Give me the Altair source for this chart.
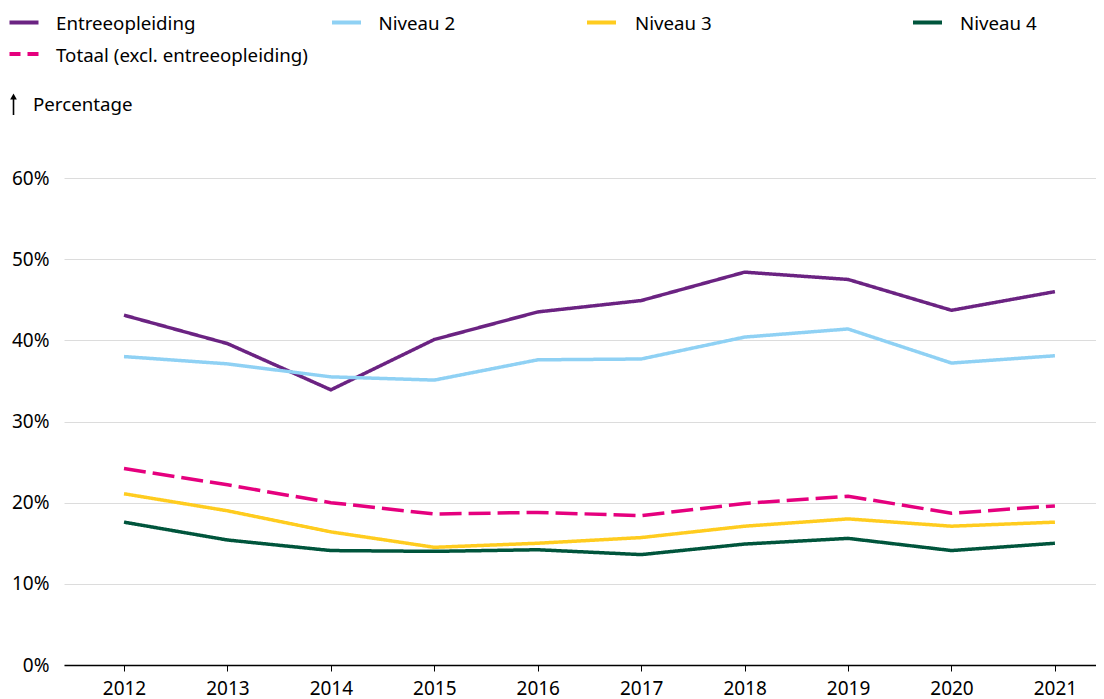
import altair as alt
import pandas as pd

# ---- data ----
jaren = [2012, 2013, 2014, 2015, 2016, 2017, 2018, 2019, 2020, 2021]
series = ["Entreeopleiding", "Niveau 2", "Niveau 3", "Niveau 4",
          "Totaal (excl. entreeopleiding)"]
entree = [43.1, 39.6, 33.9, 40.1, 43.5, 44.9, 48.4, 47.5, 43.7, 46.0]
niveau2 = [38.0, 37.1, 35.5, 35.1, 37.6, 37.7, 40.4, 41.4, 37.2, 38.1]
niveau3 = [21.1, 19.0, 16.4, 14.5, 15.0, 15.7, 17.1, 18.0, 17.1, 17.6]
niveau4 = [17.6, 15.4, 14.1, 14.0, 14.2, 13.6, 14.9, 15.6, 14.1, 15.0]
totaal = [24.2, 22.2, 20.0, 18.6, 18.8, 18.4, 19.9, 20.8, 18.7, 19.6]
y_ticks = [0, 10, 20, 30, 40, 50, 60]

# ---- styles ----
colors = ["#6b2382", "#8fd1f4", "#ffcc1f", "#00553c", "#e5007e"]
dashes = [[1, 0], [1, 0], [1, 0], [1, 0], [22, 7]]
FONT = "Noto Sans"
FS = 18.7
AFS = 19

rows = []
for name, vals in zip(series, [entree, niveau2, niveau3, niveau4, totaal]):
    for j, v in zip(jaren, vals):
        rows.append({"jaar": j, "serie": name, "waarde": v})
df = pd.DataFrame(rows)

lines = alt.Chart(df).mark_line(strokeWidth=3.5, strokeCap="butt").encode(
    x=alt.X("jaar:Q",
            scale=alt.Scale(domain=[2011.42, 2021.397], nice=False, zero=False),
            axis=alt.Axis(values=jaren, format="d", title=None, grid=False,
                          domainColor="black", domainWidth=1.5,
                          tickColor="black", tickSize=6, tickWidth=1,
                          labelPadding=8, labelFontSize=AFS, labelColor="black",
                          labelFont=FONT, labelFlush=False)),
    y=alt.Y("waarde:Q",
            scale=alt.Scale(domain=[0, 60], nice=False),
            axis=alt.Axis(values=y_ticks, labelExpr="datum.value + '%'",
                          title=None, domain=False, ticks=False,
                          gridColor="#dcdcdc", gridWidth=1,
                          labelPadding=15, labelFontSize=AFS,
                          labelColor="black", labelFont=FONT)),
    color=alt.Color("serie:N", scale=alt.Scale(domain=series, range=colors),
                    legend=None),
    strokeDash=alt.StrokeDash("serie:N",
                              scale=alt.Scale(domain=series, range=dashes),
                              legend=None),
)

# ---- hand-placed legend (pixel offsets relative to plot area) ----
legend_pos = {
    "Entreeopleiding": (-54.5, -25.5, -8, -155.5),
    "Niveau 2": (268, 297, 314.5, -155.5),
    "Niveau 3": (523, 552, 571, -155.5),
    "Niveau 4": (849, 878, 896, -155.5),
    "Totaal (excl. entreeopleiding)": (-54.5, -25.5, -8, -124),
}
legend_layers = []
for name, col in zip(series, colors):
    x1, x2, tx, yy = legend_pos[name]
    ldf = pd.DataFrame({"serie": [name]})
    dash = [11, 7] if name.startswith("Totaal") else [1, 0]
    legend_layers.append(
        alt.Chart(ldf).mark_rule(strokeWidth=4, color=col, strokeDash=dash,
                                 strokeCap="butt").encode(
            x=alt.value(x1), x2=alt.value(x2), y=alt.value(yy))
    )
    legend_layers.append(
        alt.Chart(ldf).mark_text(align="left", baseline="middle", font=FONT,
                                 fontSize=FS, color="black").encode(
            x=alt.value(tx), y=alt.value(yy + 1.5), text="serie:N")
    )

title_df = pd.DataFrame({"t": ["Percentage"]})
arrow_shaft = alt.Chart(title_df).mark_rule(color="black", strokeWidth=1.6).encode(
    x=alt.value(-50.5), y=alt.value(-81), y2=alt.value(-63))
arrow_head = alt.Chart(title_df).mark_point(shape="triangle-up", filled=True,
                                            size=45, color="black",
                                            opacity=1).encode(
    x=alt.value(-50.5), y=alt.value(-81.5))
ytitle = alt.Chart(title_df).mark_text(align="left", baseline="middle",
                                       font=FONT, fontSize=FS,
                                       color="black").encode(
    x=alt.value(-31), y=alt.value(-73), text="t:N")

chart = alt.layer(lines, *legend_layers, arrow_shaft, arrow_head, ytitle).properties(
    width=1032, height=487,
    padding={"left": 56, "top": 170, "right": 0, "bottom": 36},
    autosize=alt.AutoSizeParams(type="none"),
).configure_view(stroke=None)

chart.save("out.html", embed_options={"renderer": "svg", "actions": False})
